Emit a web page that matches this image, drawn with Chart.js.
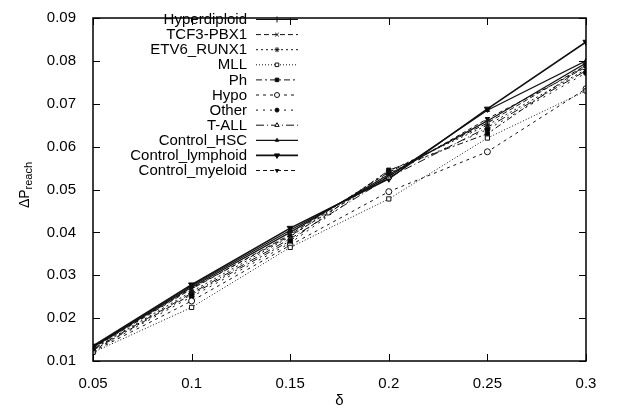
<!DOCTYPE html>
<html>
<head>
<meta charset="utf-8">
<script src="https://cdn.jsdelivr.net/npm/chart.js@4/dist/chart.umd.min.js"></script>
<style>
  html, body { margin: 0; padding: 0; background: #fff; }
  #wrap { width: 617px; height: 412px; }
</style>
</head>
<body>
<div id="wrap"><canvas id="chart1"></canvas></div>
<script>
// x values (delta)
const deltas = [0.05, 0.1, 0.15, 0.2, 0.25, 0.3];

// delta P_reach per group
const hyperdiploid    = [0.0132, 0.0272, 0.0400, 0.0535, 0.0660, 0.0795];
const tcf3Pbx1        = [0.0130, 0.0268, 0.0395, 0.0540, 0.0655, 0.0790];
const etv6Runx1       = [0.0128, 0.0262, 0.0390, 0.0543, 0.0650, 0.0780];
const mll             = [0.0120, 0.0225, 0.0365, 0.0478, 0.0620, 0.0730];
const ph              = [0.0125, 0.0255, 0.0380, 0.0545, 0.0630, 0.0790];
const hypo            = [0.0122, 0.0240, 0.0370, 0.0495, 0.0588, 0.0735];
const other           = [0.0124, 0.0250, 0.0375, 0.0538, 0.0640, 0.0772];
const tAll            = [0.0127, 0.0258, 0.0385, 0.0528, 0.0645, 0.0777];
const controlHsc      = [0.0133, 0.0275, 0.0405, 0.0530, 0.0685, 0.0800];
const controlLymphoid = [0.0135, 0.0278, 0.0410, 0.0525, 0.0688, 0.0844];
const controlMyeloid  = [0.0131, 0.0270, 0.0392, 0.0532, 0.0665, 0.0785];

const groupNames = ['Hyperdiploid', 'TCF3-PBX1', 'ETV6_RUNX1', 'MLL', 'Ph', 'Hypo',
  'Other', 'T-ALL', 'Control_HSC', 'Control_lymphoid', 'Control_myeloid'];
const groupValues = [hyperdiploid, tcf3Pbx1, etv6Runx1, mll, ph, hypo,
  other, tAll, controlHsc, controlLymphoid, controlMyeloid];

const yTicks = [0.01, 0.02, 0.03, 0.04, 0.05, 0.06, 0.07, 0.08, 0.09];

// gnuplot-ish styles for each line
const styles = [
  { dash: [],            point: 'cross',    fill: '#000', r: 3.5, rot: 0,   w: 1.2 },
  { dash: [5, 3],        point: 'crossRot', fill: '#000', r: 3,   rot: 0,   w: 1 },
  { dash: [2, 3],        point: 'star',     fill: '#000', r: 3,   rot: 0,   w: 1 },
  { dash: [1, 2],        point: 'rect',     fill: '#fff', r: 3,   rot: 0,   w: 1 },
  { dash: [6, 3, 2, 3],  point: 'rect',     fill: '#000', r: 3,   rot: 0,   w: 1 },
  { dash: [3, 4],        point: 'circle',   fill: '#fff', r: 3,   rot: 0,   w: 1 },
  { dash: [2, 5],        point: 'circle',   fill: '#000', r: 2.5, rot: 0,   w: 1 },
  { dash: [8, 3, 1, 3],  point: 'triangle', fill: '#fff', r: 3,   rot: 0,   w: 1 },
  { dash: [],            point: 'triangle', fill: '#000', r: 2.5, rot: 0,   w: 1.2 },
  { dash: [],            point: 'triangle', fill: '#000', r: 3.5, rot: 180, w: 1.6 },
  { dash: [4, 3],        point: 'triangle', fill: '#000', r: 2.5, rot: 180, w: 1 }
];

const datasets = groupNames.map(function (name, i) {
  const s = styles[i];
  return {
    label: name,
    data: deltas.map(function (d, j) { return { x: d, y: groupValues[i][j] }; }),
    borderColor: '#111',
    borderWidth: s.w,
    borderDash: s.dash,
    pointStyle: s.point,
    pointRadius: s.r,
    pointRotation: s.rot,
    pointBackgroundColor: s.fill,
    pointBorderColor: '#111',
    pointBorderWidth: 1,
    tension: 0,
    fill: false
  };
});

const FONT = '"Liberation Sans", Arial, sans-serif';

// inward ticks on all four sides + frame, gnuplot style
const frameTicks = {
  id: 'frameTicks',
  afterDraw(chart) {
    const ctx = chart.ctx, a = chart.chartArea;
    const xs = chart.scales.x, ys = chart.scales.y;
    ctx.save();
    ctx.strokeStyle = '#000';
    ctx.lineWidth = 1.5;
    ctx.strokeRect(a.left, a.top, a.right - a.left, a.bottom - a.top);
    ctx.lineWidth = 1;
    yTicks.forEach(function (v) {
      const py = Math.round(ys.getPixelForValue(v)) + 0.5;
      ctx.beginPath();
      ctx.moveTo(a.left, py); ctx.lineTo(a.left + 7, py);
      ctx.moveTo(a.right, py); ctx.lineTo(a.right - 7, py);
      ctx.stroke();
    });
    deltas.forEach(function (v) {
      const px = Math.round(xs.getPixelForValue(v)) + 0.5;
      ctx.beginPath();
      ctx.moveTo(px, a.bottom); ctx.lineTo(px, a.bottom - 7);
      ctx.moveTo(px, a.top); ctx.lineTo(px, a.top + 7);
      ctx.stroke();
    });
    // axis titles
    ctx.fillStyle = '#000';
    ctx.font = '15px ' + FONT;
    ctx.textAlign = 'center';
    ctx.textBaseline = 'middle';
    ctx.fillText('\u03B4', (a.left + a.right) / 2, 401);
    ctx.translate(25, 185);
    ctx.rotate(-Math.PI / 2);
    ctx.textAlign = 'left';
    ctx.font = '14px ' + FONT;
    const main = '\u0394P';
    const w1 = ctx.measureText(main).width;
    ctx.font = '11px ' + FONT;
    const w2 = ctx.measureText('reach').width;
    const x0 = -(w1 + w2) / 2;
    ctx.font = '14px ' + FONT;
    ctx.fillText(main, x0, 0);
    ctx.font = '11px ' + FONT;
    ctx.fillText('reach', x0 + w1, 4);
    ctx.restore();
  }
};

// legend: text right-aligned, line sample to its right
const sideLegend = {
  id: 'sideLegend',
  afterDraw(chart) {
    const ctx = chart.ctx;
    const textRight = 247, lx0 = 256, lx1 = 298, top = 19, step = 15.1;
    ctx.save();
    chart.data.datasets.forEach(function (ds, i) {
      const y = top + i * step;
      ctx.fillStyle = '#000';
      ctx.font = '15px ' + FONT;
      ctx.textAlign = 'right';
      ctx.textBaseline = 'middle';
      ctx.fillText(ds.label, textRight, y + 1);
      ctx.strokeStyle = ds.borderColor;
      ctx.lineWidth = ds.borderWidth;
      ctx.setLineDash(ds.borderDash);
      ctx.beginPath();
      ctx.moveTo(lx0, y + 0.5); ctx.lineTo(lx1, y + 0.5);
      ctx.stroke();
      ctx.setLineDash([]);
      ctx.fillStyle = ds.pointBackgroundColor;
      ctx.lineWidth = 1;
      Chart.helpers.drawPoint(ctx, {
        pointStyle: ds.pointStyle,
        radius: ds.pointRadius - 0.5,
        rotation: ds.pointRotation,
        borderWidth: 1
      }, (lx0 + lx1) / 2, y + 0.5);
    });
    ctx.restore();
  }
};

const config = {
  type: 'line',
  data: { datasets: datasets },
  options: {
    responsive: true,
    maintainAspectRatio: false,
    animation: false,
    layout: { padding: { top: 6, right: 31, left: 0, bottom: 0 } },
    plugins: { legend: { display: false }, tooltip: { enabled: false } },
    scales: {
      x: {
        type: 'linear',
        min: 0.05, max: 0.3,
        afterBuildTicks(scale) { scale.ticks = deltas.map(function (v) { return { value: v }; }); },
        afterFit(scale) { scale.height = 51; },
        grid: { display: false },
        border: { display: false },
        ticks: {
          color: '#000', padding: 6,
          font: { family: FONT, size: 15 },
          maxRotation: 0,
          callback: function (v) { return String(+v.toFixed(2)); }
        }
      },
      y: {
        min: 0.01, max: 0.09,
        afterBuildTicks(scale) { scale.ticks = yTicks.map(function (v) { return { value: v }; }); },
        afterFit(scale) { scale.width = 93; },
        grid: { display: false },
        border: { display: false },
        ticks: {
          color: '#000', padding: 9,
          font: { family: FONT, size: 15 },
          callback: function (v) { return v.toFixed(2); }
        }
      }
    }
  },
  plugins: [frameTicks, sideLegend]
};

const myChart = new Chart(document.getElementById('chart1'), config);
</script>
</body>
</html>
